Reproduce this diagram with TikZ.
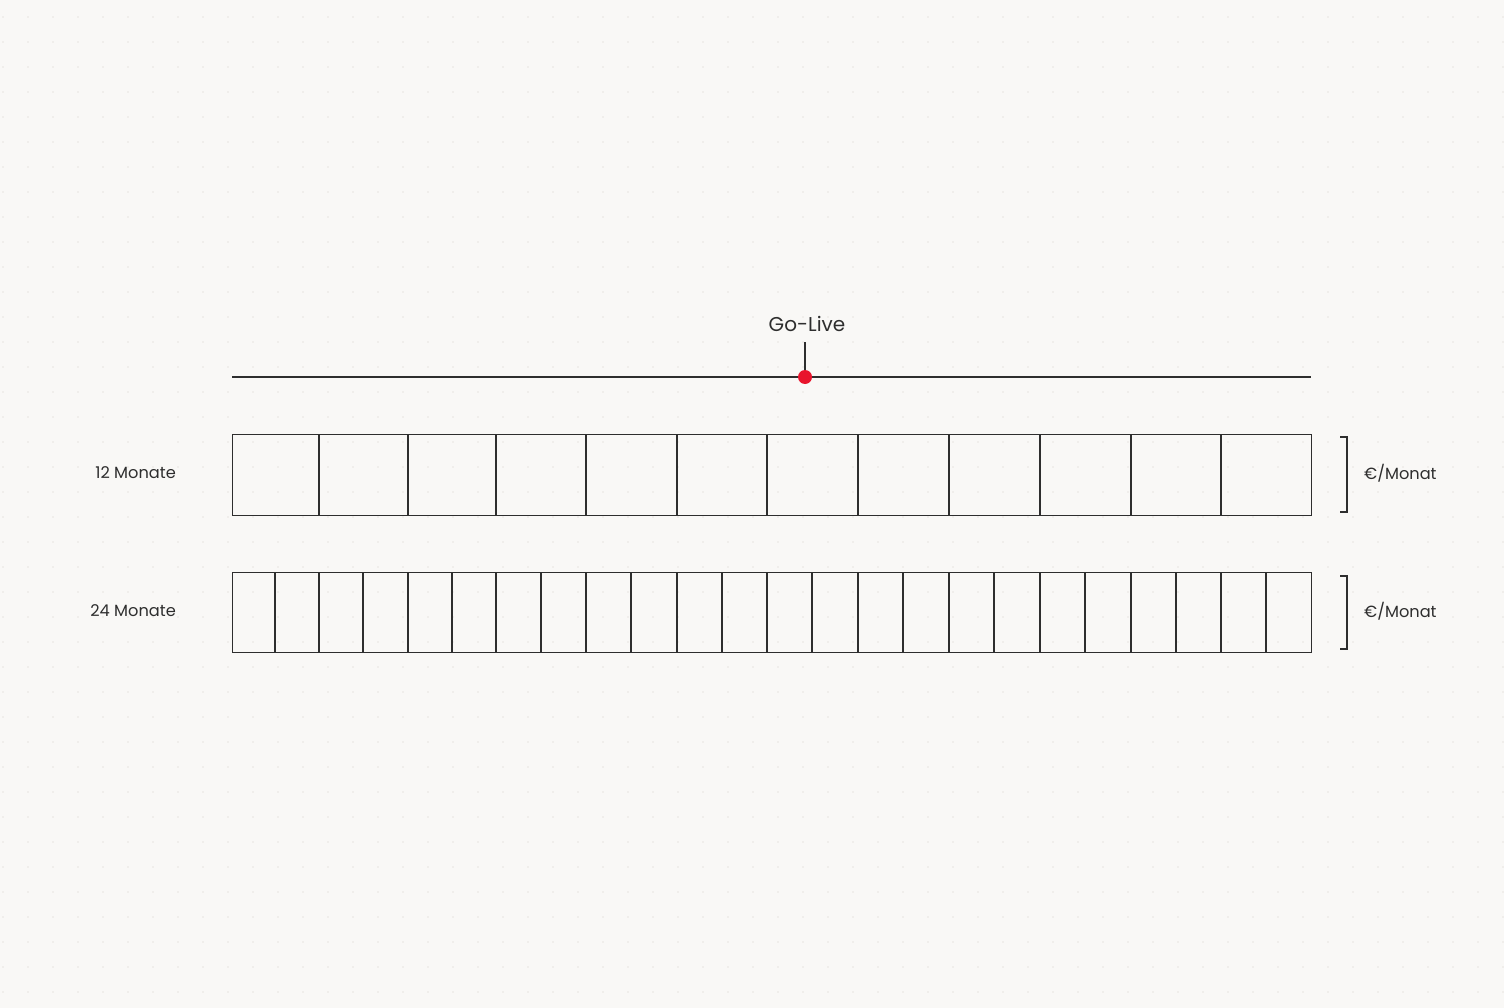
\documentclass[tikz,border=0pt]{standalone}
\usepackage{fontspec}
\setmainfont{Poppins}
\definecolor{bg}{HTML}{F9F8F6}
\definecolor{gridc}{HTML}{E7E5E1}
\definecolor{ink}{HTML}{2E2E2E}
\definecolor{liveRed}{HTML}{E8142C}
\begin{document}
\begin{tikzpicture}[x=1pt,y=-1pt,
  cellline/.style={draw=ink,line width=1.1pt},
  lbl/.style={font=\fontsize{16.2}{19}\selectfont,text=ink,inner sep=0pt},
  brk/.style={draw=ink,line width=1.1pt}]
\fill[bg] (0,0) rectangle (1504,1008);
\useasboundingbox (0,0) rectangle (1504,1008);
% dot grid
\foreach \i in {0,...,60}{\foreach \j in {0,...,39}{
  \fill[gridc] (3+25*\i,17+25*\j) circle (0.9);}}
% timeline
\coordinate (tl) at (232,377);
\coordinate (tr) at (1311,377);
\draw[ink,line width=1.1pt] (tl) -- (tr);
\node[lbl,font=\fontsize{20}{24}\selectfont] (golive) at (807,324) {Go-Live};
\coordinate (tick) at (805,342);
\coordinate (live) at (805,377);
\draw[ink,line width=1.1pt] (tick) -- (live);
\fill[liveRed] (live) circle (7);
% row 12
\node[cellline,minimum width=1079pt,minimum height=81pt,inner sep=0pt,anchor=north west] (r12) at (232,434) {};
\foreach \x in {319,408,496,586,677,767,858,949,1040,1131,1221}{
  \draw[cellline] (\x,434) -- (\x,515);}
% row 24
\node[cellline,minimum width=1079pt,minimum height=80pt,inner sep=0pt,anchor=north west] (r24) at (232,572) {};
\foreach \x in {275,319,363,408,452,496,541,586,631,677,722,767,812,858,903,949,994,1040,1085,1131,1176,1221,1266}{
  \draw[cellline] (\x,572) -- (\x,652);}
% labels
\node[lbl,anchor=east] (l12) at (176,473) {12 Monate};
\node[lbl,anchor=east] (l24) at (176,611) {24 Monate};
\node[lbl,anchor=west] (e12) at (1364,473) {€/Monat};
\node[lbl,anchor=west] (e24) at (1364,611) {€/Monat};
% brackets
\draw[brk] (1340,437) -- (1347,437) -- (1347,512) -- (1340,512);
\draw[brk] (1340,576) -- (1347,576) -- (1347,649) -- (1340,649);
\end{tikzpicture}
\end{document}
